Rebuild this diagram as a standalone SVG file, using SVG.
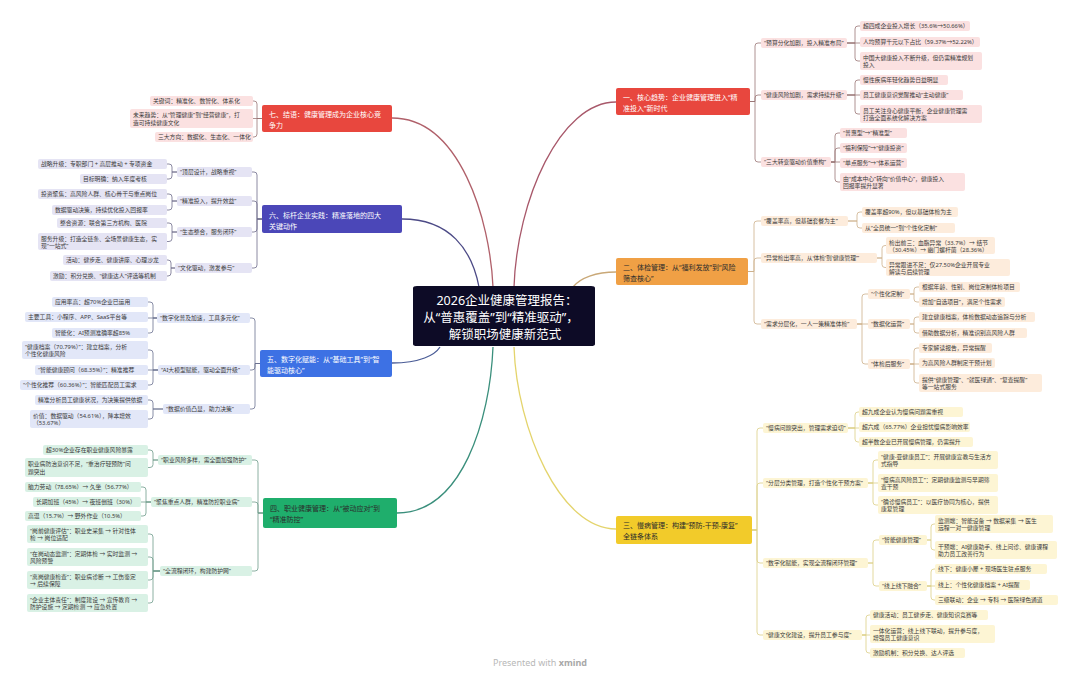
<svg xmlns="http://www.w3.org/2000/svg" width="1080" height="679" viewBox="0 0 1080 679">
<style>
text{font-family:"Noto Sans","Noto Sans CJK SC",sans-serif;}
rect{rx:2px;ry:2px;}
.lf text{font-size:5.8px;fill:#3a3a3a;}
.mn text{font-size:7px;}
.w text{fill:#ffffff;}
.d text{fill:#2b2b2b;}
.k1 rect{fill:#fbe1e1;}
.k2 rect{fill:#fdecdc;}
.k3 rect{fill:#fdf5d4;}
.k4 rect{fill:#d9f1e5;}
.k5 rect{fill:#e2e7f8;}
.k6 rect{fill:#e5e4f4;}
#links path{fill:none;stroke-width:0.8;}
.c1{stroke:#9a7676;}
.c2{stroke:#cdb08c;}
.c3{stroke:#dccf86;}
.c4{stroke:#6f9c8c;}
.c5{stroke:#6b7190;}
.c6{stroke:#6e6c8c;}
#links path.m{stroke-width:1.3;}
</style>
<rect x="0" y="0" width="1080" height="679" fill="#ffffff" style="rx:0"/>
<g id="links">
<path class="m" stroke="#a8586a" d="M616 102 C560 102 517 200 514 287"/>
<path class="m" stroke="#c9a877" d="M616 272 C596 272 580 278 573 287"/>
<path class="m" stroke="#e4d46c" d="M616 529 C560 529 517 430 514 347"/>
<path class="m" stroke="#b0606a" d="M392 118 C460 118 490 220 493 287"/>
<path class="m" stroke="#4c4a86" d="M402 219 C450 219 472 250 479 287"/>
<path class="m" stroke="#4a5c96" d="M392 363 C420 363 435 355 440 347"/>
<path class="m" stroke="#3a8f7c" d="M397 513 C462 513 490 420 493 347"/>
<!-- part 1 -->
<path class="c1" d="M750 101.5 H755 V46 Q755 43 758 43 H761"/>
<path class="c1" d="M750 101.5 H755 V98 Q755 95 758 95 H761"/>
<path class="c1" d="M750 101.5 H755 V159 Q755 162 758 162 H761"/>
<path class="c1" d="M847 43 H855 V29 Q855 26 858 26 H860"/>
<path class="c1" d="M847 43 H860"/>
<path class="c1" d="M847 43 H855 V58 Q855 61 858 61 H860"/>
<path class="c1" d="M847 95 H855 V83 Q855 80 858 80 H860"/>
<path class="c1" d="M847 95 H860"/>
<path class="c1" d="M847 95 H855 V111 Q855 114 858 114 H860"/>
<path class="c1" d="M831 162 H835 V136 Q835 133 838 133 H840"/>
<path class="c1" d="M831 162 H835 V151 Q835 148 838 148 H840"/>
<path class="c1" d="M831 162 H840"/>
<path class="c1" d="M831 162 H835 V179 Q835 182 838 182 H840"/>
<!-- part 2 -->
<path class="c2" d="M748 271.5 H754 V224 Q754 221 757 221 H761"/>
<path class="c2" d="M748 271.5 H754 V261 Q754 258 757 258 H761"/>
<path class="c2" d="M748 271.5 H754 V321 Q754 324 757 324 H761"/>
<path class="c2" d="M848 221 H857 V215 Q857 212 860 212 H862"/>
<path class="c2" d="M848 221 H857 V225 Q857 228 860 228 H862"/>
<path class="c2" d="M877 258 H882 V248.5 Q882 245.5 885 245.5 H886"/>
<path class="c2" d="M877 258 H882 V264.5 Q882 267.5 885 267.5 H886"/>
<path class="c2" d="M857 324 H862 V297 Q862 294 865 294 H868"/>
<path class="c2" d="M857 324 H868"/>
<path class="c2" d="M857 324 H862 V361 Q862 364 865 364 H868"/>
<path class="c2" d="M910 294 H914 V290 Q914 287 917 287 H919"/>
<path class="c2" d="M910 294 H914 V299 Q914 302 917 302 H919"/>
<path class="c2" d="M910 324 H914 V320 Q914 317 917 317 H919"/>
<path class="c2" d="M910 324 H914 V330 Q914 333 917 333 H919"/>
<path class="c2" d="M910 364 H914 V351 Q914 348 917 348 H919"/>
<path class="c2" d="M910 364 H919"/>
<path class="c2" d="M910 364 H914 V380 Q914 383 917 383 H919"/>
<!-- part 3 -->
<path class="c3" d="M752 530 H757 V431 Q757 428 760 428 H763"/>
<path class="c3" d="M752 530 H757 V486 Q757 483 760 483 H763"/>
<path class="c3" d="M752 530 H757 V560 Q757 563 760 563 H763"/>
<path class="c3" d="M752 530 H757 V632 Q757 635 760 635 H763"/>
<path class="c3" d="M848 428 H855 V415 Q855 412 858 412 H859"/>
<path class="c3" d="M848 428 H859"/>
<path class="c3" d="M848 428 H855 V439 Q855 442 858 442 H859"/>
<path class="c3" d="M868 483 H873 V463 Q873 460 876 460 H878"/>
<path class="c3" d="M868 483 H878"/>
<path class="c3" d="M868 483 H873 V502 Q873 505 876 505 H878"/>
<path class="c3" d="M868 563 H873 V543 Q873 540 876 540 H879"/>
<path class="c3" d="M868 563 H873 V583 Q873 586 876 586 H879"/>
<path class="c3" d="M927 540 H931 V527 Q931 524 934 524 H935"/>
<path class="c3" d="M927 540 H931 V547 Q931 550 934 550 H935"/>
<path class="c3" d="M927 586 H931 V572 Q931 569 934 569 H935"/>
<path class="c3" d="M927 586 H935"/>
<path class="c3" d="M927 586 H931 V597 Q931 600 934 600 H935"/>
<path class="c3" d="M862 635 H866 V618 Q866 615 869 615 H870"/>
<path class="c3" d="M862 635 H870"/>
<path class="c3" d="M862 635 H866 V650 Q866 653 869 653 H870"/>
<!-- part 7 -->
<path class="c1" d="M262 118.5 H257 V104 Q257 101 254 101 H253"/>
<path class="c1" d="M262 118.5 H253"/>
<path class="c1" d="M262 118.5 H257 V134 Q257 137 254 137 H253"/>
<!-- part 6 -->
<path class="c6" d="M262 219 H257 V175 Q257 172 254 172 H252"/>
<path class="c6" d="M262 219 H257 V204 Q257 201 254 201 H252"/>
<path class="c6" d="M262 219 H257 V229 Q257 232 254 232 H252"/>
<path class="c6" d="M262 219 H257 V265 Q257 268 254 268 H252"/>
<path class="c6" d="M177 172 H172 V167 Q172 164 169 164 H167"/>
<path class="c6" d="M177 172 H172 V176 Q172 179 169 179 H167"/>
<path class="c6" d="M177 201 H172 V197 Q172 194 169 194 H167"/>
<path class="c6" d="M177 201 H172 V207 Q172 210 169 210 H167"/>
<path class="c6" d="M177 232 H172 V226 Q172 223 169 223 H167"/>
<path class="c6" d="M177 232 H172 V238.5 Q172 241.5 169 241.5 H167"/>
<path class="c6" d="M175 268 H171 V263 Q171 260 168 260 H167"/>
<path class="c6" d="M175 268 H171 V273 Q171 276 168 276 H167"/>
<!-- part 5 -->
<path class="c5" d="M260 363.5 H255 V321 Q255 318 252 318 H250"/>
<path class="c5" d="M260 363.5 H255 V367 Q255 370 252 370 H250"/>
<path class="c5" d="M260 363.5 H255 V406 Q255 409 252 409 H250"/>
<path class="c5" d="M157 318 H153 V305 Q153 302 150 302 H148"/>
<path class="c5" d="M157 318 H148"/>
<path class="c5" d="M157 318 H153 V330 Q153 333 150 333 H148"/>
<path class="c5" d="M158 370 H153 V353 Q153 350 150 350 H148"/>
<path class="c5" d="M158 370 H148"/>
<path class="c5" d="M158 370 H153 V382 Q153 385 150 385 H148"/>
<path class="c5" d="M163 409 H153 V403 Q153 400 150 400 H148"/>
<path class="c5" d="M163 409 H153 V416 Q153 419 150 419 H148"/>
<!-- part 4 -->
<path class="c4" d="M263 513 H258 V463 Q258 460 255 460 H252"/>
<path class="c4" d="M263 513 H258 V505 Q258 502 255 502 H252"/>
<path class="c4" d="M263 513 H258 V568 Q258 571 255 571 H252"/>
<path class="c4" d="M158 460 H153 V453 Q153 450 150 450 H148"/>
<path class="c4" d="M158 460 H153 V464.5 Q153 467.5 150 467.5 H148"/>
<path class="c4" d="M151 502 H146 V490 Q146 487 143 487 H141"/>
<path class="c4" d="M151 502 H141"/>
<path class="c4" d="M151 502 H146 V513 Q146 516 143 516 H141"/>
<path class="c4" d="M160 571 H153 V537 Q153 534 150 534 H148"/>
<path class="c4" d="M160 571 H153 V560 Q153 557 150 557 H148"/>
<path class="c4" d="M160 571 H153 V577 Q153 580 150 580 H148"/>
<path class="c4" d="M160 571 H153 V600 Q153 603 150 603 H148"/>
</g>

<g id="center"><rect x="413" y="286" width="182" height="60" fill="#0d0b26" style="rx:4px"/><text font-size="12.5" fill="#ffffff" text-anchor="middle"><tspan x="507" y="305">2026企业健康管理报告：</tspan><tspan x="501" y="322">从“普惠覆盖”到“精准驱动”，</tspan><tspan x="505" y="339">解锁职场健康新范式</tspan></text></g>

<!-- Part 1 -->
<g id="p1" class="mn w"><rect x="616" y="88" width="134" height="27" fill="#e8473e"/><text><tspan x="623" y="99.5">一、核心趋势：企业健康管理进入“精</tspan><tspan x="623" y="110.5">准投入”新时代</tspan></text></g>
<g id="p1-1" class="lf k1"><rect x="761" y="38" width="86" height="10"/><text x="764" y="45">“预算分化加剧，投入精准布局”</text></g>
<g id="p1-1-1" class="lf k1"><rect x="860" y="21" width="110" height="10"/><text x="863" y="28">超四成企业投入增长（35.6%→50.66%）</text></g>
<g id="p1-1-2" class="lf k1"><rect x="860" y="37" width="120" height="10"/><text x="863" y="44">人均预算千元以下占比（59.37%→52.22%）</text></g>
<g id="p1-1-3" class="lf k1"><rect x="860" y="52" width="122" height="18"/><text><tspan x="863" y="59.5">中国大健康投入不断升级，但仍需精准规划</tspan><tspan x="863" y="67">投入</tspan></text></g>
<g id="p1-2" class="lf k1"><rect x="761" y="90" width="86" height="10"/><text x="764" y="97">“健康风险加剧，需求持续升级”</text></g>
<g id="p1-2-1" class="lf k1"><rect x="860" y="75" width="88" height="10"/><text x="863" y="82">慢性疾病年轻化趋势日益明显</text></g>
<g id="p1-2-2" class="lf k1"><rect x="860" y="90" width="103" height="10"/><text x="863" y="97">员工健康意识觉醒推动“主动健康”</text></g>
<g id="p1-2-3" class="lf k1"><rect x="860" y="105" width="122" height="18"/><text><tspan x="863" y="112.5">员工关注身心健康平衡，企业健康管理需</tspan><tspan x="863" y="120">打造全面系统化解决方案</tspan></text></g>
<g id="p1-3" class="lf k1"><rect x="761" y="157" width="70" height="10"/><text x="764" y="164">“三大转变驱动价值重构”</text></g>
<g id="p1-3-1" class="lf k1"><rect x="840" y="128" width="67" height="10"/><text x="843" y="135">“普惠型”→“精准型”</text></g>
<g id="p1-3-2" class="lf k1"><rect x="840" y="143" width="67" height="10"/><text x="843" y="150">“福利保障”→“健康投资”</text></g>
<g id="p1-3-3" class="lf k1"><rect x="840" y="158" width="67" height="10"/><text x="843" y="165">“单点服务”→“体系运营”</text></g>
<g id="p1-3-4" class="lf k1"><rect x="840" y="173" width="125" height="18"/><text><tspan x="843" y="180.5">由“成本中心”转向“价值中心”，健康投入</tspan><tspan x="843" y="188">回报率提升显著</tspan></text></g>

<!-- Part 2 -->
<g id="p2" class="mn d"><rect x="616" y="258" width="132" height="27" fill="#f0a045"/><text><tspan x="623" y="270">二、体检管理：从“福利发放”到“风险</tspan><tspan x="623" y="281">筛查核心”</tspan></text></g>
<g id="p2-1" class="lf k2"><rect x="761" y="216" width="87" height="10"/><text x="764" y="223">“覆盖率高，但基础套餐为主”</text></g>
<g id="p2-1-1" class="lf k2"><rect x="862" y="207" width="96" height="10"/><text x="865" y="214">覆盖率超90%，但以基础体检为主</text></g>
<g id="p2-1-2" class="lf k2"><rect x="862" y="223" width="93" height="10"/><text x="865" y="230">从“全员统一”到“个性化定制”</text></g>
<g id="p2-2" class="lf k2"><rect x="761" y="253" width="116" height="10"/><text x="764" y="260">“异常检出率高，从‘体检’到‘健康管理’”</text></g>
<g id="p2-2-1" class="lf k2"><rect x="886" y="237" width="109" height="17"/><text><tspan x="889" y="244.5">检出前三：血脂异常（33.7%）→ 结节</tspan><tspan x="889" y="251.5">（30.45%）→ 幽门螺杆菌（28.36%）</tspan></text></g>
<g id="p2-2-2" class="lf k2"><rect x="886" y="259" width="124" height="17"/><text><tspan x="889" y="266.5">异常跟进不足：仅27.50%企业开展专业</tspan><tspan x="889" y="273.5">解读与后续管理</tspan></text></g>
<g id="p2-3" class="lf k2"><rect x="761" y="319" width="96" height="10"/><text x="764" y="326">“需求分层化，一人一策精准体检”</text></g>
<g id="p2-3-1" class="lf k2"><rect x="868" y="289" width="42" height="10"/><text x="871" y="296">“个性化定制”</text></g>
<g id="p2-3-1-1" class="lf k2"><rect x="919" y="282" width="101" height="10"/><text x="922" y="289">根据年龄、性别、岗位定制体检项目</text></g>
<g id="p2-3-1-2" class="lf k2"><rect x="919" y="297" width="86" height="10"/><text x="922" y="304">增加“自选项目”，满足个性需求</text></g>
<g id="p2-3-2" class="lf k2"><rect x="868" y="319" width="42" height="10"/><text x="871" y="326">“数据化运营”</text></g>
<g id="p2-3-2-1" class="lf k2"><rect x="919" y="312" width="116" height="10"/><text x="922" y="319">建立健康档案，体检数据动态追踪与分析</text></g>
<g id="p2-3-2-2" class="lf k2"><rect x="919" y="328" width="108" height="10"/><text x="922" y="335">借助数据分析，精准识别高风险人群</text></g>
<g id="p2-3-3" class="lf k2"><rect x="868" y="359" width="42" height="10"/><text x="871" y="366">“体检后服务”</text></g>
<g id="p2-3-3-1" class="lf k2"><rect x="919" y="343" width="73" height="10"/><text x="922" y="350">专家解读报告，异常提醒</text></g>
<g id="p2-3-3-2" class="lf k2"><rect x="919" y="358" width="76" height="10"/><text x="922" y="365">为高风险人群制定干预计划</text></g>
<g id="p2-3-3-3" class="lf k2"><rect x="919" y="374" width="123" height="18"/><text><tspan x="922" y="381.5">提供“健康管理”、“就医绿通”、“复查提醒”</tspan><tspan x="922" y="389">等一站式服务</tspan></text></g>

<!-- Part 3 -->
<g id="p3" class="mn d"><rect x="616" y="516" width="136" height="28" fill="#f2cb2a"/><text><tspan x="623" y="527.5">三、慢病管理：构建“预防-干预-康复”</tspan><tspan x="623" y="538.5">全链条体系</tspan></text></g>
<g id="p3-1" class="lf k3"><rect x="763" y="423" width="85" height="10"/><text x="766" y="430">“慢病问题突出，管理需求迫切”</text></g>
<g id="p3-1-1" class="lf k3"><rect x="859" y="407" width="104" height="10"/><text x="862" y="414">超九成企业认为慢病问题需重视</text></g>
<g id="p3-1-2" class="lf k3"><rect x="859" y="422" width="111" height="10"/><text x="862" y="429">超六成（65.77%）企业担忧慢病影响效率</text></g>
<g id="p3-1-3" class="lf k3"><rect x="859" y="437" width="114" height="10"/><text x="862" y="444">超半数企业已开展慢病管理，仍需提升</text></g>
<g id="p3-2" class="lf k3"><rect x="763" y="478" width="105" height="10"/><text x="766" y="485">“分层分类管理，打造个性化干预方案”</text></g>
<g id="p3-2-1" class="lf k3"><rect x="878" y="451" width="120" height="18"/><text><tspan x="881" y="458.5">“健康-亚健康员工”：开展健康宣教与生活方</tspan><tspan x="881" y="466">式指导</tspan></text></g>
<g id="p3-2-2" class="lf k3"><rect x="878" y="474" width="120" height="18"/><text><tspan x="881" y="481.5">“慢病高风险员工”：定期健康监测与早期筛</tspan><tspan x="881" y="489">查干预</tspan></text></g>
<g id="p3-2-3" class="lf k3"><rect x="878" y="496" width="120" height="18"/><text><tspan x="881" y="503.5">“确诊慢病员工”：以医疗协同为核心，提供</tspan><tspan x="881" y="511">康复管理</tspan></text></g>
<g id="p3-3" class="lf k3"><rect x="763" y="558" width="105" height="10"/><text x="766" y="565">“数字化赋能，实现全流程闭环管理”</text></g>
<g id="p3-3-1" class="lf k3"><rect x="879" y="535" width="48" height="10"/><text x="882" y="542">“智能健康管理”</text></g>
<g id="p3-3-1-1" class="lf k3"><rect x="935" y="515" width="118" height="18"/><text><tspan x="938" y="522.5">监测端：智能设备 → 数据采集 → 医生</tspan><tspan x="938" y="530">远程一对一健康管理</tspan></text></g>
<g id="p3-3-1-2" class="lf k3"><rect x="935" y="541" width="122" height="18"/><text><tspan x="938" y="548.5">干预端：AI健康助手、线上问诊、健康课程</tspan><tspan x="938" y="556">助力员工改善行为</tspan></text></g>
<g id="p3-3-2" class="lf k3"><rect x="879" y="581" width="48" height="10"/><text x="882" y="588">“线上线下融合”</text></g>
<g id="p3-3-2-1" class="lf k3"><rect x="935" y="564" width="112" height="10"/><text x="938" y="571">线下：健康小屋 + 现场医生驻点服务</text></g>
<g id="p3-3-2-2" class="lf k3"><rect x="935" y="580" width="95" height="10"/><text x="938" y="587">线上：个性化健康档案 + AI提醒</text></g>
<g id="p3-3-2-3" class="lf k3"><rect x="935" y="595" width="123" height="10"/><text x="938" y="602">三级联动：企业 → 专科 → 医院绿色通道</text></g>
<g id="p3-4" class="lf k3"><rect x="763" y="630" width="99" height="10"/><text x="766" y="637">“健康文化建设，提升员工参与度”</text></g>
<g id="p3-4-1" class="lf k3"><rect x="870" y="610" width="118" height="10"/><text x="873" y="617">健康活动：员工健步走、健康知识竞赛等</text></g>
<g id="p3-4-2" class="lf k3"><rect x="870" y="625" width="125" height="18"/><text><tspan x="873" y="632.5">一体化运营：线上线下联动，提升参与度，</tspan><tspan x="873" y="640">增强员工健康意识</tspan></text></g>
<g id="p3-4-3" class="lf k3"><rect x="870" y="648" width="95" height="10"/><text x="873" y="655">激励机制：积分兑换、达人评选</text></g>

<!-- Part 7 -->
<g id="p7" class="mn w"><rect x="262" y="105" width="130" height="27" fill="#e8473e"/><text><tspan x="269" y="116.5">七、结语：健康管理成为企业核心竞</tspan><tspan x="269" y="127.5">争力</tspan></text></g>
<g id="p7-1" class="lf k1"><rect x="150" y="96" width="103" height="10"/><text x="153" y="103">关键词：精准化、数智化、体系化</text></g>
<g id="p7-2" class="lf k1"><rect x="130" y="109" width="123" height="19"/><text><tspan x="133" y="117">未来趋势：从“管理健康”到“经营健康”，打</tspan><tspan x="133" y="124.5">造可持续健康文化</tspan></text></g>
<g id="p7-3" class="lf k1"><rect x="155" y="132" width="98" height="10"/><text x="158" y="139">三大方向：数据化、生态化、一体化</text></g>

<!-- Part 6 -->
<g id="p6" class="mn w"><rect x="262" y="205" width="140" height="28" fill="#4b47b8"/><text><tspan x="269" y="217.5">六、标杆企业实践：精准落地的四大</tspan><tspan x="269" y="228.5">关键动作</tspan></text></g>
<g id="p6-1" class="lf k6"><rect x="177" y="167" width="75" height="10"/><text x="180" y="174">“顶层设计，战略重视”</text></g>
<g id="p6-1-1" class="lf k6"><rect x="38" y="159" width="129" height="10"/><text x="41" y="166">战略升级：专职部门 + 高层推动 + 专项资金</text></g>
<g id="p6-1-2" class="lf k6"><rect x="80" y="174" width="87" height="10"/><text x="83" y="181">目标明确：纳入年度考核</text></g>
<g id="p6-2" class="lf k6"><rect x="177" y="196" width="75" height="10"/><text x="180" y="203">“精准投入，提升效益”</text></g>
<g id="p6-2-1" class="lf k6"><rect x="38" y="189" width="129" height="10"/><text x="41" y="196">投资聚焦：高风险人群、核心骨干与重点岗位</text></g>
<g id="p6-2-2" class="lf k6"><rect x="52" y="205" width="115" height="10"/><text x="55" y="212">数据驱动决策，持续优化投入回报率</text></g>
<g id="p6-3" class="lf k6"><rect x="177" y="227" width="75" height="10"/><text x="180" y="234">“生态整合，服务闭环”</text></g>
<g id="p6-3-1" class="lf k6"><rect x="57" y="218" width="110" height="10"/><text x="60" y="225">整合资源：联合第三方机构、医院</text></g>
<g id="p6-3-2" class="lf k6"><rect x="38" y="233" width="129" height="17"/><text><tspan x="41" y="240.5">服务升级：打造全链条、全场景健康生态，实</tspan><tspan x="41" y="247.5">现“一站式”</tspan></text></g>
<g id="p6-4" class="lf k6"><rect x="175" y="263" width="77" height="10"/><text x="178" y="270">“文化驱动，激发参与”</text></g>
<g id="p6-4-1" class="lf k6"><rect x="63" y="255" width="104" height="10"/><text x="66" y="262">活动：健步走、健康讲座、心理沙龙</text></g>
<g id="p6-4-2" class="lf k6"><rect x="50" y="271" width="117" height="10"/><text x="53" y="278">激励：积分兑换、“健康达人”评选等机制</text></g>

<!-- Part 5 -->
<g id="p5" class="mn w"><rect x="260" y="350" width="132" height="27" fill="#3d71e4"/><text><tspan x="267" y="362">五、数字化赋能：从“基础工具”到“智</tspan><tspan x="267" y="373">能驱动核心”</tspan></text></g>
<g id="p5-1" class="lf k5"><rect x="157" y="313" width="93" height="10"/><text x="160" y="320">“数字化普及加速，工具多元化”</text></g>
<g id="p5-1-1" class="lf k5"><rect x="52" y="297" width="96" height="10"/><text x="55" y="304">应用率高：超70%企业已运用</text></g>
<g id="p5-1-2" class="lf k5"><rect x="25" y="312" width="123" height="10"/><text x="28" y="319">主要工具：小程序、APP、SaaS平台等</text></g>
<g id="p5-1-3" class="lf k5"><rect x="52" y="328" width="96" height="10"/><text x="55" y="335">智能化：AI预测准确率超85%</text></g>
<g id="p5-2" class="lf k5"><rect x="158" y="365" width="92" height="10"/><text x="161" y="372">“AI大模型赋能，驱动全面升级”</text></g>
<g id="p5-2-1" class="lf k5"><rect x="22" y="341" width="126" height="18"/><text><tspan x="25" y="348.5">“健康档案（70.79%）”：建立档案，分析</tspan><tspan x="25" y="356">个性化健康风险</tspan></text></g>
<g id="p5-2-2" class="lf k5"><rect x="35" y="365" width="113" height="10"/><text x="38" y="372">“智能健康顾问（68.35%）”：精准推荐</text></g>
<g id="p5-2-3" class="lf k5"><rect x="20" y="380" width="128" height="10"/><text x="23" y="387">“个性化推荐（60.36%）”：智能匹配员工需求</text></g>
<g id="p5-3" class="lf k5"><rect x="163" y="404" width="87" height="10"/><text x="166" y="411">“数据价值凸显，助力决策”</text></g>
<g id="p5-3-1" class="lf k5"><rect x="35" y="395" width="113" height="10"/><text x="38" y="402">精准分析员工健康状况，为决策提供依据</text></g>
<g id="p5-3-2" class="lf k5"><rect x="30" y="410" width="118" height="18"/><text><tspan x="33" y="417.5">价值：数据驱动（54.61%），降本增效</tspan><tspan x="33" y="425">（53.67%）</tspan></text></g>

<!-- Part 4 -->
<g id="p4" class="mn d"><rect x="263" y="498" width="134" height="30" fill="#1fae6c"/><text><tspan x="270" y="511">四、职业健康管理：从“被动应对”到</tspan><tspan x="270" y="522">“精准防控”</tspan></text></g>
<g id="p4-1" class="lf k4"><rect x="158" y="455" width="94" height="10"/><text x="161" y="462">“职业风险多样，需全面加强防护”</text></g>
<g id="p4-1-1" class="lf k4"><rect x="43" y="445" width="105" height="10"/><text x="46" y="452">超30%企业存在职业健康风险暴露</text></g>
<g id="p4-1-2" class="lf k4"><rect x="25" y="458" width="123" height="19"/><text><tspan x="28" y="466">职业病防治意识不足，“重治疗轻预防”问</tspan><tspan x="28" y="473.5">题突出</tspan></text></g>
<g id="p4-2" class="lf k4"><rect x="151" y="497" width="101" height="10"/><text x="154" y="504">“聚焦重点人群，精准防控职业病”</text></g>
<g id="p4-2-1" class="lf k4"><rect x="25" y="482" width="116" height="10"/><text x="28" y="489">脑力劳动（78.65%）→ 久坐（56.77%）</text></g>
<g id="p4-2-2" class="lf k4"><rect x="33" y="497" width="108" height="10"/><text x="36" y="504">长期加班（45%）→ 夜班倒班（30%）</text></g>
<g id="p4-2-3" class="lf k4"><rect x="25" y="511" width="116" height="10"/><text x="28" y="518">高温（15.7%）→ 野外作业（10.5%）</text></g>
<g id="p4-3" class="lf k4"><rect x="160" y="566" width="92" height="10"/><text x="163" y="573">“全流程闭环，构建防护网”</text></g>
<g id="p4-3-1" class="lf k4"><rect x="27" y="525" width="121" height="18"/><text><tspan x="30" y="532.5">“岗前健康评估”：职业史采集 → 针对性体</tspan><tspan x="30" y="540">检 → 岗位适配</tspan></text></g>
<g id="p4-3-2" class="lf k4"><rect x="27" y="548" width="121" height="18"/><text><tspan x="30" y="555.5">“在岗动态监测”：定期体检 → 实时监测 →</tspan><tspan x="30" y="563">风险预警</tspan></text></g>
<g id="p4-3-3" class="lf k4"><rect x="27" y="571" width="121" height="18"/><text><tspan x="30" y="578.5">“离岗健康检查”：职业病诊断 → 工伤鉴定</tspan><tspan x="30" y="586">→ 后续保障</tspan></text></g>
<g id="p4-3-4" class="lf k4"><rect x="27" y="594" width="121" height="18"/><text><tspan x="30" y="601.5">“企业主体责任”：制度建设 → 宣传教育 →</tspan><tspan x="30" y="609">防护设施 → 定期检测 → 应急处置</tspan></text></g>

<g id="watermark"><text x="540" y="666" font-size="9" fill="#b8b8b8" text-anchor="middle" font-family="Inter, 'Noto Sans', sans-serif">Presented with <tspan font-weight="bold" fill="#a8a8a8">xmind</tspan></text></g>
</svg>
